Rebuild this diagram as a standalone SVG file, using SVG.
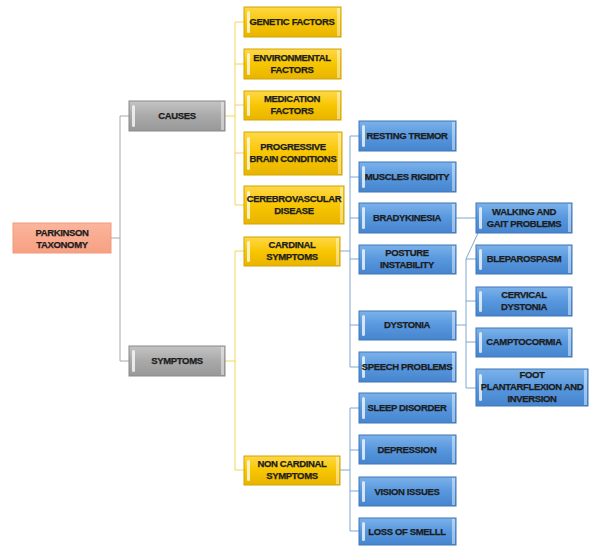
<svg xmlns="http://www.w3.org/2000/svg" width="591" height="546" viewBox="0 0 591 546">
<defs>
<linearGradient id="gy" x1="0" y1="0" x2="0" y2="1">
<stop offset="0" stop-color="#FFD84A"/><stop offset="0.5" stop-color="#F7C600"/><stop offset="1" stop-color="#E8B400"/>
</linearGradient>
<linearGradient id="gb" x1="0" y1="0" x2="0" y2="1">
<stop offset="0" stop-color="#7CB2EA"/><stop offset="0.5" stop-color="#5797DE"/><stop offset="1" stop-color="#4685CD"/>
</linearGradient>
<linearGradient id="gg" x1="0" y1="0" x2="0" y2="1">
<stop offset="0" stop-color="#C4C4C4"/><stop offset="0.5" stop-color="#A9A9A9"/><stop offset="1" stop-color="#989898"/>
</linearGradient>
<linearGradient id="gs" x1="0" y1="0" x2="0" y2="1">
<stop offset="0" stop-color="#FBB59C"/><stop offset="1" stop-color="#F7A083"/>
</linearGradient>
</defs>
<style>
.y{fill:url(#gy);stroke:#D2A400;stroke-width:1}
.b{fill:url(#gb);stroke:#3E77B8;stroke-width:1}
.g{fill:url(#gg);stroke:#8A8A8A;stroke-width:1}
.s{fill:url(#gs);stroke:#F29A7E;stroke-width:1}
.hl{fill:#ffffff;opacity:0.75}
.hr{fill:#ffffff;opacity:0.45}
text{font-family:"Liberation Sans",Arial,sans-serif;font-weight:bold;font-size:9.5px;fill:#1c1c1c;stroke:#1c1c1c;stroke-width:0.25px;text-anchor:middle;letter-spacing:-0.35px}
.cg{stroke:#A8A8A8;stroke-width:1;fill:none}
.cy{stroke:#F3D45A;stroke-width:1;fill:none}
.cb{stroke:#7FA7D2;stroke-width:1;fill:none}
</style>
<g id="connectors">
<path class="cg" d="M111,238 H120 M120,116 V361 M120,116 H129 M120,361 H129"/>
<path class="cy" d="M225,116 H235 M235,22 V205 M235,22 H244 M235,64 H244 M235,105 H244 M235,153 H244 M235,205 H244"/>
<path class="cy" d="M225,361 H235 M235,251 V470 M235,251 H244 M235,470 H244"/>
<path class="cb" d="M340,251 H350 M350,136 V367 M350,136 H359 M350,177 H359 M350,218 H359 M350,259 H359 M350,325 H359 M350,367 H359"/>
<path class="cb" d="M340,470 H350 M350,408 V531 M350,408 H359 M350,450 H359 M350,491 H359 M350,531 H359"/>
<path class="cb" d="M456,218 H476 M456,325 H466 M478,233 L466,259 V388 M466,259 H476 M466,301 H476 M466,342 H476 M466,388 H476"/>
</g>
<g id="root"><rect class="s" x="13" y="223" width="98" height="30"/><text x="62" y="236">PARKINSON</text><text x="62" y="248">TAXONOMY</text></g>
<g id="causes"><rect class="g" x="129" y="101" width="96" height="30"/><rect class="hl" x="132" y="105" width="3" height="22" rx="1.5"/><rect class="hr" x="221" y="102" width="3" height="28"/><text x="177" y="119">CAUSES</text></g>
<g id="symptoms"><rect class="g" x="129" y="346" width="96" height="30"/><rect class="hl" x="132" y="350" width="3" height="22" rx="1.5"/><rect class="hr" x="221" y="347" width="3" height="28"/><text x="177" y="364">SYMPTOMS</text></g>
<g id="genetic"><rect class="y" x="244" y="7" width="97" height="30"/><rect class="hl" x="247" y="11" width="3" height="22" rx="1.5"/><rect class="hr" x="337" y="8" width="3" height="28"/><text x="292" y="25">GENETIC FACTORS</text></g>
<g id="environmental"><rect class="y" x="244" y="49" width="97" height="30"/><rect class="hl" x="247" y="53" width="3" height="22" rx="1.5"/><rect class="hr" x="337" y="50" width="3" height="28"/><text x="292" y="61">ENVIRONMENTAL</text><text x="292" y="73">FACTORS</text></g>
<g id="medication"><rect class="y" x="244" y="91" width="97" height="29"/><rect class="hl" x="247" y="95" width="3" height="21" rx="1.5"/><rect class="hr" x="337" y="92" width="3" height="27"/><text x="292" y="102">MEDICATION</text><text x="292" y="114">FACTORS</text></g>
<g id="progressive"><rect class="y" x="244" y="132" width="98" height="43"/><rect class="hl" x="247" y="137" width="3" height="33" rx="1.5"/><rect class="hr" x="338" y="133" width="3" height="41"/><text x="293" y="150">PROGRESSIVE</text><text x="293" y="162">BRAIN CONDITIONS</text></g>
<g id="cerebrovascular"><rect class="y" x="244" y="186" width="100" height="38"/><rect class="hl" x="247" y="191" width="3" height="28" rx="1.5"/><rect class="hr" x="340" y="187" width="3" height="36"/><text x="294" y="202">CEREBROVASCULAR</text><text x="294" y="214">DISEASE</text></g>
<g id="cardinal"><rect class="y" x="244" y="237" width="96" height="29"/><rect class="hl" x="247" y="241" width="3" height="21" rx="1.5"/><rect class="hr" x="336" y="238" width="3" height="27"/><text x="292" y="248">CARDINAL</text><text x="292" y="260">SYMPTOMS</text></g>
<g id="noncardinal"><rect class="y" x="244" y="456" width="96" height="29"/><rect class="hl" x="247" y="460" width="3" height="21" rx="1.5"/><rect class="hr" x="336" y="457" width="3" height="27"/><text x="292" y="467">NON CARDINAL</text><text x="292" y="479">SYMPTOMS</text></g>
<g id="resting"><rect class="b" x="359" y="121" width="97" height="30"/><rect class="hl" x="362" y="125" width="3" height="22" rx="1.5"/><rect class="hr" x="452" y="122" width="3" height="28"/><text x="407" y="139">RESTING TREMOR</text></g>
<g id="muscles"><rect class="b" x="359" y="162" width="97" height="30"/><rect class="hl" x="362" y="166" width="3" height="22" rx="1.5"/><rect class="hr" x="452" y="163" width="3" height="28"/><text x="407" y="180">MUSCLES RIGIDITY</text></g>
<g id="bradykinesia"><rect class="b" x="359" y="203" width="97" height="30"/><rect class="hl" x="362" y="207" width="3" height="22" rx="1.5"/><rect class="hr" x="452" y="204" width="3" height="28"/><text x="407" y="221">BRADYKINESIA</text></g>
<g id="posture"><rect class="b" x="359" y="245" width="97" height="29"/><rect class="hl" x="362" y="249" width="3" height="21" rx="1.5"/><rect class="hr" x="452" y="246" width="3" height="27"/><text x="407" y="256">POSTURE</text><text x="407" y="268">INSTABILITY</text></g>
<g id="dystonia"><rect class="b" x="359" y="311" width="97" height="29"/><rect class="hl" x="362" y="315" width="3" height="21" rx="1.5"/><rect class="hr" x="452" y="312" width="3" height="27"/><text x="407" y="328">DYSTONIA</text></g>
<g id="speech"><rect class="b" x="359" y="352" width="97" height="30"/><rect class="hl" x="362" y="356" width="3" height="22" rx="1.5"/><rect class="hr" x="452" y="353" width="3" height="28"/><text x="407" y="370">SPEECH PROBLEMS</text></g>
<g id="sleep"><rect class="b" x="359" y="393" width="97" height="30"/><rect class="hl" x="362" y="397" width="3" height="22" rx="1.5"/><rect class="hr" x="452" y="394" width="3" height="28"/><text x="407" y="411">SLEEP DISORDER</text></g>
<g id="depression"><rect class="b" x="359" y="435" width="97" height="29"/><rect class="hl" x="362" y="439" width="3" height="21" rx="1.5"/><rect class="hr" x="452" y="436" width="3" height="27"/><text x="407" y="453">DEPRESSION</text></g>
<g id="vision"><rect class="b" x="359" y="477" width="97" height="29"/><rect class="hl" x="362" y="481" width="3" height="21" rx="1.5"/><rect class="hr" x="452" y="478" width="3" height="27"/><text x="407" y="495">VISION ISSUES</text></g>
<g id="smell"><rect class="b" x="359" y="518" width="97" height="27"/><rect class="hl" x="362" y="522" width="3" height="19" rx="1.5"/><rect class="hr" x="452" y="519" width="3" height="25"/><text x="407" y="535">LOSS OF SMELLL</text></g>
<g id="walking"><rect class="b" x="476" y="203" width="96" height="30"/><rect class="hl" x="479" y="207" width="3" height="22" rx="1.5"/><rect class="hr" x="568" y="204" width="3" height="28"/><text x="524" y="215">WALKING AND</text><text x="524" y="227">GAIT PROBLEMS</text></g>
<g id="bleparospasm"><rect class="b" x="476" y="245" width="96" height="29"/><rect class="hl" x="479" y="249" width="3" height="21" rx="1.5"/><rect class="hr" x="568" y="246" width="3" height="27"/><text x="524" y="262">BLEPAROSPASM</text></g>
<g id="cervical"><rect class="b" x="476" y="287" width="96" height="29"/><rect class="hl" x="479" y="291" width="3" height="21" rx="1.5"/><rect class="hr" x="568" y="288" width="3" height="27"/><text x="524" y="298">CERVICAL</text><text x="524" y="310">DYSTONIA</text></g>
<g id="camptocormia"><rect class="b" x="476" y="328" width="96" height="29"/><rect class="hl" x="479" y="332" width="3" height="21" rx="1.5"/><rect class="hr" x="568" y="329" width="3" height="27"/><text x="524" y="345">CAMPTOCORMIA</text></g>
<g id="foot"><rect class="b" x="476" y="369" width="112" height="37"/><rect class="hl" x="479" y="374" width="3" height="27" rx="1.5"/><rect class="hr" x="584" y="370" width="3" height="35"/><text x="532" y="378">FOOT</text><text x="532" y="390">PLANTARFLEXION AND</text><text x="532" y="402">INVERSION</text></g>
</svg>
